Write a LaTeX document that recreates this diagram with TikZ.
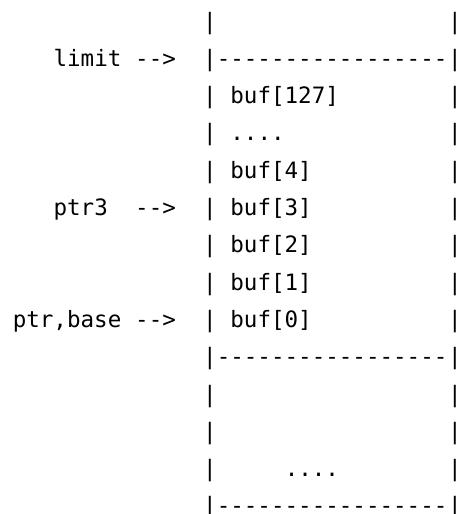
\documentclass[tikz,border=0pt]{standalone}
\usepackage{fontspec}
\newfontfamily\asciimono{DejaVu Sans Mono}
\tikzset{
  ascii/.style={anchor=base west, inner sep=0pt, outer sep=0pt,
    font=\asciimono\fontsize{16.9pt}{16.9pt}\selectfont, text=black},
  asciibar/.style={anchor=base, inner sep=0pt, outer sep=0pt,
    font=\asciimono\fontsize{16.9pt}{16.9pt}\selectfont, text=black},
}
\newcommand{\cw}{13.6}
\newcommand{\xo}{12.8}
\newcommand{\yo}{29}
\newcommand{\rh}{37.3}
\newcommand{\barglyph}{\smash{\makebox[0pt]{|}}}
\begin{document}
\begin{tikzpicture}[x=0.75pt, y=-0.75pt]
\useasboundingbox (0,0) rectangle (459,514);
% vertical bars of the box, one per text row
\foreach \r in {0,...,13}{
  \coordinate (L\r) at ({\xo+14.5*\cw}, {\yo+\r*\rh});
  \coordinate (R\r) at ({\xo+32.5*\cw}, {\yo+\r*\rh});
  \node[asciibar] (barL\r) at (L\r) {\barglyph};
  \node[asciibar] (barR\r) at (R\r) {\barglyph};
}
% dashed separators
\node[ascii] (sep1) at ({\xo+15*\cw}, {\yo+1*\rh}) {-----------------};
\node[ascii] (sep9) at ({\xo+15*\cw}, {\yo+9*\rh}) {-----------------};
\node[ascii] (sep13) at ({\xo+15*\cw}, {\yo+13*\rh}) {\smash{-----------------}};
% contents
\node[ascii] (b127) at ({\xo+16*\cw}, {\yo+2*\rh}) {buf[127]};
\node[ascii] (dots1) at ({\xo+16*\cw}, {\yo+3*\rh}) {....};
\node[ascii] (b4) at ({\xo+16*\cw}, {\yo+4*\rh}) {buf[4]};
\node[ascii] (b3) at ({\xo+16*\cw}, {\yo+5*\rh}) {buf[3]};
\node[ascii] (b2) at ({\xo+16*\cw}, {\yo+6*\rh}) {buf[2]};
\node[ascii] (b1) at ({\xo+16*\cw}, {\yo+7*\rh}) {buf[1]};
\node[ascii] (b0) at ({\xo+16*\cw}, {\yo+8*\rh}) {buf[0]};
\node[ascii] (dots2) at ({\xo+20*\cw}, {\yo+12*\rh}) {....};
% pointer labels
\node[ascii] (limit) at ({\xo+3*\cw}, {\yo+1*\rh}) {limit};
\node[ascii] (alimit) at ({\xo+9*\cw}, {\yo+1*\rh}) {-->};
\node[ascii] (ptr3) at ({\xo+3*\cw}, {\yo+5*\rh}) {ptr3};
\node[ascii] (aptr3) at ({\xo+9*\cw}, {\yo+5*\rh}) {-->};
\node[ascii] (ptrbase) at ({\xo+0*\cw}, {\yo+8*\rh}) {ptr,base};
\node[ascii] (aptrbase) at ({\xo+9*\cw}, {\yo+8*\rh}) {-->};
\end{tikzpicture}
\end{document}
